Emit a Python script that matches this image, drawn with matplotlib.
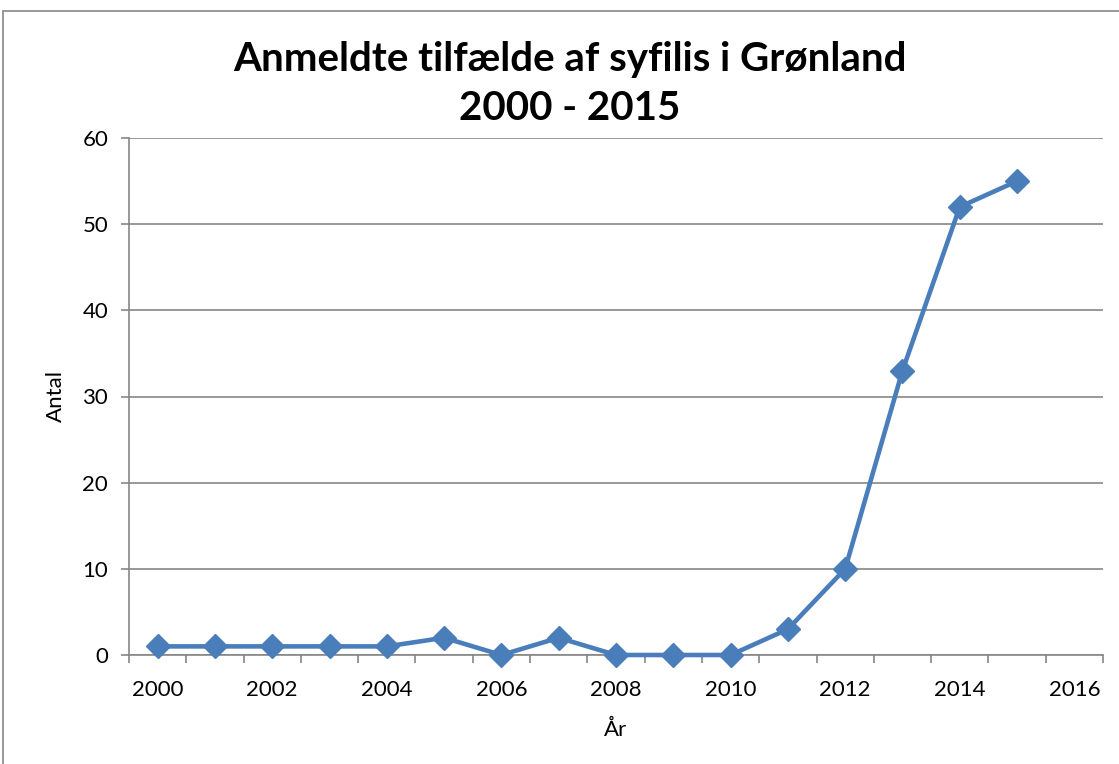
import numpy as np
import matplotlib.pyplot as plt
from matplotlib.patches import Rectangle

# data
years = [2000, 2001, 2002, 2003, 2004, 2005, 2006, 2007,
         2008, 2009, 2010, 2011, 2012, 2013, 2014, 2015]
cases = [1, 1, 1, 1, 1, 2, 0, 2, 0, 0, 0, 3, 10, 33, 52, 55]
label_years = [2000, 2002, 2004, 2006, 2008, 2010, 2012, 2014, 2016]
y_ticks = [0, 10, 20, 30, 40, 50, 60]

title = "Anmeldte tilfælde af syfilis i Grønland\n2000 - 2015"
blue = "#4a7ebb"
grey = "#868686"

plt.rcParams['font.family'] = ['Lato', 'DejaVu Sans']

fig = plt.figure(figsize=(11.19, 7.64), dpi=100)
ax = fig.add_axes([129 / 1119, 1 - 655 / 764, (1103 - 129) / 1119, (655 - 138) / 764])

# outer chart border (only left and top visible in the crop)
fig.patches.append(Rectangle((3 / 1119, -0.1), 1.2, 1 - 11 / 764 + 0.1,
                             transform=fig.transFigure, fill=False,
                             edgecolor=grey, linewidth=1.2))

ax.plot(years, cases, color=blue, linewidth=3.3, marker='D', markersize=12,
        markeredgecolor=blue, markerfacecolor=blue, zorder=3, clip_on=False)

ax.set_xlim(years[0] - 0.5, label_years[-1] + 0.5)
ax.set_ylim(0, 60)

# category boundaries get the tick marks, even years get the labels
ax.set_xticks(np.arange(years[0] - 0.5, label_years[-1] + 1, 1.0))
ax.set_xticklabels([])
ax.set_xticks(label_years, minor=True)
ax.set_xticklabels([str(y) for y in label_years], minor=True, fontsize=16)
ax.tick_params(axis='x', which='major', length=6, width=1.2, color=grey, direction='out')
ax.tick_params(axis='x', which='minor', length=0, pad=18)

ax.set_yticks(y_ticks)
ax.set_yticklabels([str(v) for v in y_ticks], fontsize=16)
ax.tick_params(axis='y', length=6, width=1.2, color=grey, direction='out', pad=9)

ax.grid(axis='y', color=grey, linewidth=1.2)
ax.set_axisbelow(True)
for side in ['top', 'right']:
    ax.spines[side].set_visible(False)
for side in ['left', 'bottom']:
    ax.spines[side].set_color(grey)
    ax.spines[side].set_linewidth(1.2)

ax.set_xlabel("År", fontsize=16, labelpad=14)
ax.set_ylabel("Antal", fontsize=16, labelpad=12)

fig.text(570 / 1119, 1 - 84 / 764, title, ha='center', va='center',
         fontsize=29, fontweight='bold', linespacing=1.38)

fig.savefig("out.png", dpi=100)
